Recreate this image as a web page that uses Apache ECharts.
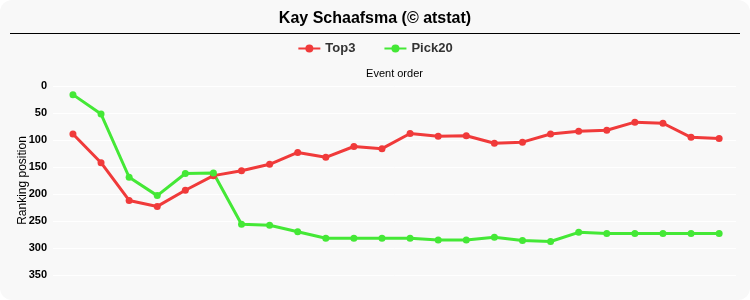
<!DOCTYPE html>
<html><head><meta charset="utf-8">
<script src="https://cdn.jsdelivr.net/npm/echarts@6/dist/echarts.min.js"></script>
<style>
html,body{margin:0;padding:0;background:#fff;}
#box{position:absolute;left:0;top:0;width:750px;height:300px;background:#f8f8f8;border-radius:12px;overflow:hidden;}
#c{width:750px;height:300px;}
</style></head>
<body><div id="box"><div id="c"></div></div>
<script>
var titleText = 'Kay Schaafsma (© atstat)';
var events = ['1','2','3','4','5','6','7','8','9','10','11','12','13','14','15','16','17','18','19','20','21','22','23','24'];
var top3 = [89, 142, 212, 223, 193, 166, 157, 145, 123, 132, 112, 116, 88, 93, 92, 106, 104, 89, 84, 82, 67, 69, 95, 97];
var pick20 = [16, 52, 169, 203, 162, 161, 256, 258, 270, 282, 282, 282, 282, 285, 285, 280, 286, 288, 271, 273, 273, 273, 273, 273];
var yTicks = [0, 50, 100, 150, 200, 250, 300, 350];

function pairs(arr){ return arr.map(function(v,i){ return [events.indexOf(events[i]), v]; }); }

var chart = echarts.init(document.getElementById('c'), null, {renderer:'canvas'});
chart.setOption({
  backgroundColor: 'transparent',
  animation: false,
  textStyle: {fontFamily: 'Liberation Sans, Arial, sans-serif'},
  title: {text: titleText, left: 'center', top: 6,
    textStyle: {fontSize: 16, fontWeight: 'bold', color: '#000', fontFamily: 'Liberation Sans, Arial, sans-serif'}},
  graphic: [{type:'line', shape:{x1:10, y1:33.5, x2:740, y2:33.5}, style:{stroke:'#000', lineWidth:1}}],
  legend: {top: 37, left: 'center', itemWidth: 22, itemHeight: 10, itemGap: 28,
    textStyle: {fontSize: 13, fontWeight: 'bold', color: '#333'},
    data: ['Top3','Pick20']},
  grid: {left: 53, right: 14, top: 86, bottom: 25, containLabel: false, outerBoundsMode: 'none'},
  xAxis: {type: 'value', position: 'top', min: -0.71, max: 23.6,
    name: 'Event order', nameLocation: 'middle', nameGap: 7, nameMoveOverlap: false,
    nameTextStyle: {fontSize: 11, color: '#000'},
    axisLine: {show: false}, axisTick: {show: false}, axisLabel: {show: false}, splitLine: {show: false}},
  yAxis: {type: 'value', inverse: true, min: yTicks[0], max: yTicks[yTicks.length-1], interval: 50,
    name: 'Ranking position', nameLocation: 'middle', nameGap: 24, nameMoveOverlap: false,
    nameTextStyle: {fontSize: 12, color: '#000'},
    axisLine: {show: false}, axisTick: {show: false},
    axisLabel: {fontSize: 11, fontWeight: 'bold', color: '#000', margin: 6},
    splitLine: {lineStyle: {color: '#ffffff', width: 1}}},
  series: [
    {name: 'Top3', type: 'line', data: pairs(top3), symbol: 'circle', symbolSize: 7,
     lineStyle: {width: 3, color: '#f03a3a'}, itemStyle: {color: '#f03a3a'}},
    {name: 'Pick20', type: 'line', data: pairs(pick20), symbol: 'circle', symbolSize: 7,
     lineStyle: {width: 3, color: '#44e836'}, itemStyle: {color: '#44e836'}}
  ]
});
</script></body></html>
